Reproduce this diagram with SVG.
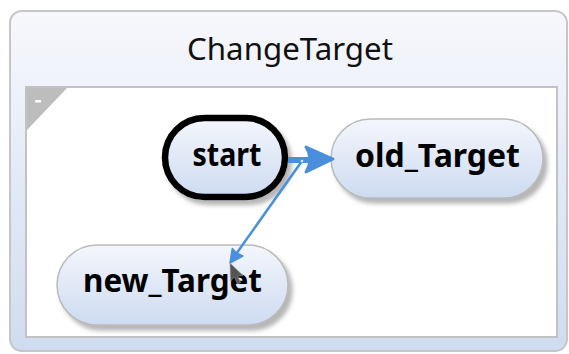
<svg xmlns="http://www.w3.org/2000/svg" width="569" height="354" viewBox="0 0 569 354">
  <defs>
    <linearGradient id="frameFill" x1="0" y1="0" x2="0" y2="1">
      <stop offset="0" stop-color="#f7f8fc"/>
      <stop offset="1" stop-color="#cfdcf0"/>
    </linearGradient>
    <linearGradient id="stateFill" x1="0" y1="0" x2="0" y2="1">
      <stop offset="0" stop-color="#f4f6fc"/>
      <stop offset="1" stop-color="#cddbf1"/>
    </linearGradient>
    <filter id="shadow" x="-20%" y="-20%" width="150%" height="160%">
      <feDropShadow dx="4" dy="5" stdDeviation="2" flood-color="#7a7a7a" flood-opacity="0.55"/>
    </filter>
  </defs>
  <style>
    .frame { fill: url(#frameFill); stroke: #c6c6c6; stroke-width: 2; }
    .region { fill: #ffffff; stroke: #c2c2c2; stroke-width: 2; }
    .state { fill: url(#stateFill); stroke: #bababa; stroke-width: 1.5; filter: url(#shadow); }
    .initial { fill: url(#stateFill); stroke: #000000; stroke-width: 6.5; filter: url(#shadow); }
    .label { font-family: "Noto Sans", "DejaVu Sans", sans-serif; font-weight: bold; font-size: 33px; fill: #000; text-anchor: middle; }
    .title { font-family: "Noto Sans", "DejaVu Sans", sans-serif; font-size: 31px; fill: #111; text-anchor: middle; }
    .edge { stroke: #4a8fdb; fill: none; }
    .head { fill: #4a8fdb; stroke: #4a8fdb; stroke-linejoin: round; }
  </style>

  <!-- composite state frame -->
  <g id="ChangeTarget">
    <rect class="frame" x="10" y="11" width="557" height="340" rx="12" ry="12"/>
    <text class="title" x="290" y="60" textLength="206" lengthAdjust="spacingAndGlyphs">ChangeTarget</text>
    <rect class="region" x="26" y="87" width="531" height="250"/>
    <polygon points="27,88 67,88 27,130" fill="#bdbdbd"/>
    <rect x="35" y="100" width="6" height="2.5" fill="#ffffff"/>
  </g>

  <!-- states -->
  <g id="start">
    <rect class="initial" x="165" y="118" width="120" height="79" rx="39.5" ry="39.5"/>
    <text class="label" x="227" y="166" textLength="69" lengthAdjust="spacingAndGlyphs">start</text>
  </g>
  <g id="old_Target">
    <rect class="state" x="331" y="119" width="212" height="79" rx="39.5" ry="39.5"/>
    <text class="label" x="437.5" y="167" textLength="165" lengthAdjust="spacingAndGlyphs">old_Target</text>
  </g>
  <g id="new_Target">
    <rect class="state" x="57" y="245" width="231" height="80" rx="40" ry="40"/>
    <text class="label" x="172.5" y="292" textLength="179" lengthAdjust="spacingAndGlyphs">new_Target</text>
  </g>

  <!-- transitions -->
  <g id="connectors">
    <line class="edge" x1="288" y1="160" x2="312" y2="160" stroke-width="6"/>
    <path class="head" stroke-width="3" d="M333,159 L306,147 Q314,159 306,172 Z"/>
    <line class="edge" x1="302" y1="161" x2="234" y2="257" stroke-width="2.5"/>
    <path class="head" stroke-width="1.5" d="M230,263 L232.3,248.5 L236.5,253 L242.8,256 Z"/>
    <circle cx="302" cy="161" r="1.3" fill="#e4e4e4"/>
    <path d="M230,263 L230.5,281 L234.5,277 L237.5,284 L240.5,282.5 L237.5,276 L243,275.5 Z" fill="#555555" stroke="#9a9a9a" stroke-width="0.6"/>
  </g>
</svg>
